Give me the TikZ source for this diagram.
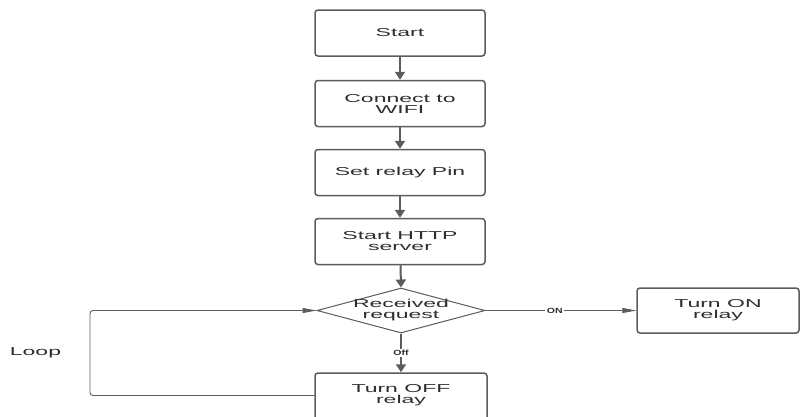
\documentclass[tikz,border=0pt]{standalone}
\usepackage{fontspec}
\setmainfont{Liberation Sans}
\newfontfamily\diagfont[FakeStretch=2.0]{Liberation Sans}
\newfontfamily\lblfont[FakeStretch=1.4]{Liberation Sans Bold}
\usetikzlibrary{shapes.geometric,arrows.meta}
\definecolor{linegray}{HTML}{5C5C5C}
\definecolor{txtgray}{HTML}{2E2E2E}
\begin{document}
\begin{tikzpicture}[x=1pt,y=-1pt,
  txt/.style={font=\diagfont\fontsize{11.5}{11}\selectfont, text=txtgray, align=center},
  box/.style={txt, draw=linegray, line width=1.5pt, rounded corners=3pt, minimum width=170pt, minimum height=46pt, inner sep=0pt},
  dec/.style={draw=linegray, line width=1pt, diamond, minimum width=168pt, minimum height=45pt, inner sep=0pt},
  flow/.style={draw=linegray, line width=2pt, -{Triangle[length=8pt,width=10pt]}},
  hflow/.style={draw=linegray, line width=0.9pt, -{Triangle[length=14pt,width=5pt]}},
  lbl/.style={font=\lblfont\fontsize{7.5}{7.5}\selectfont, fill=white, inner sep=1.5pt, text=txtgray},
]
\useasboundingbox (0,0) rectangle (801,416);
\clip (0,0) rectangle (801,416);
\fill[white] (0,0) rectangle (801,416);

\node[box] (start) at (400,33) {Start};
\node[box] (wifi) at (400,103.5) {Connect to\\WIFI};
\node[box] (pin) at (400,172.5) {Set relay Pin};
\node[box] (http) at (400,241.5) {Start HTTP\\server};
\node[dec, label={[txt]center:Received\\request}] (dia) at (401,310.5) {};
\node[box, minimum width=162pt, minimum height=45pt] (turnon) at (718,310.5) {Turn ON\\relay};
\node[box, minimum width=172pt, minimum height=60pt, label={[txt, yshift=8pt]center:Turn OFF\\relay}] (turnoff) at (401,403) {};
\node[txt] (looplbl) at (35.5,353) {Loop};

\draw[flow] (start) -- (wifi);
\draw[flow] (wifi) -- (pin);
\draw[flow] (pin) -- (http);
\draw[flow] (http) -- (dia.north);
\draw[hflow] (dia.east) -- node[lbl, pos=0.46] {ON} (turnon.west);
\draw[flow] (dia.south) -- node[lbl] {Off} (turnoff.north);
\coordinate (lc) at (90,0);
\coordinate (ly) at (0,395.5);
\draw[hflow, rounded corners=3pt] (turnoff.west |- ly) -- (lc |- ly) -- (dia.west -| lc) -- (dia.west);
\end{tikzpicture}
\end{document}
